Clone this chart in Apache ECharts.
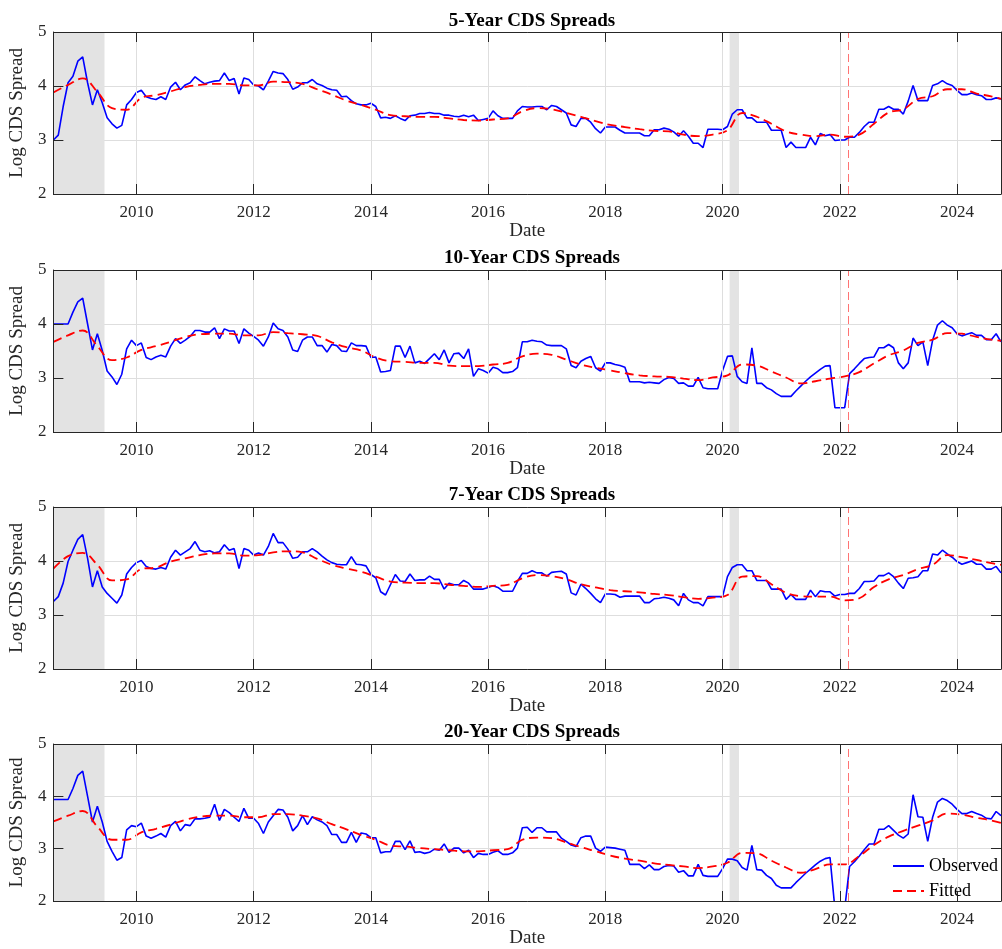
<!DOCTYPE html>
<html>
<head>
<meta charset="utf-8">
<title>CDS Spreads</title>
<script src="https://cdn.jsdelivr.net/npm/echarts@6/dist/echarts.min.js"></script>
<style>
    html, body { margin: 0; padding: 0; background: #ffffff; }
    #main { width: 1002px; height: 949px; }
</style>
</head>
<body>
<div id="main"></div>
<script>
// ---------- data (monthly, Jul 2008 - Sep 2024, log spreads) ----------
var obs5 = [3.00,3.09,3.62,4.06,4.18,4.46,4.54,4.06,3.65,3.93,
    3.69,3.41,3.30,3.22,3.27,3.65,3.75,3.88,3.92,3.80,
    3.77,3.75,3.80,3.75,3.98,4.07,3.93,4.02,4.06,4.17,
    4.10,4.04,4.07,4.09,4.10,4.24,4.10,4.14,3.85,4.15,
    4.12,4.02,4.00,3.93,4.09,4.27,4.24,4.23,4.12,3.94,
    3.98,4.06,4.06,4.12,4.04,4.01,3.96,3.93,3.92,3.80,
    3.81,3.73,3.67,3.65,3.65,3.68,3.62,3.41,3.42,3.40,
    3.45,3.40,3.36,3.45,3.46,3.49,3.49,3.51,3.49,3.49,
    3.46,3.46,3.44,3.43,3.46,3.43,3.46,3.36,3.38,3.40,
    3.54,3.45,3.40,3.40,3.40,3.54,3.62,3.61,3.61,3.62,
    3.62,3.56,3.64,3.62,3.56,3.50,3.28,3.25,3.40,3.40,
    3.33,3.21,3.13,3.24,3.24,3.24,3.18,3.13,3.13,3.13,
    3.13,3.08,3.08,3.19,3.19,3.22,3.20,3.15,3.07,3.17,
    3.07,2.94,2.94,2.86,3.20,3.20,3.20,3.19,3.25,3.48,
    3.56,3.56,3.41,3.41,3.33,3.33,3.33,3.18,3.18,3.18,
    2.86,2.96,2.86,2.86,2.86,3.05,2.91,3.12,3.08,3.10,
    2.99,3.00,3.00,3.05,3.05,3.14,3.25,3.33,3.33,3.57,
    3.57,3.62,3.57,3.57,3.48,3.72,4.01,3.73,3.73,3.73,
    4.01,4.04,4.10,4.04,4.01,3.92,3.84,3.84,3.87,3.84,
    3.82,3.75,3.75,3.78,3.76];

var obs10 = [4.00,4.00,4.00,4.00,4.22,4.41,4.48,4.00,3.52,3.82,
    3.51,3.13,3.02,2.88,3.07,3.54,3.70,3.60,3.65,3.38,
    3.34,3.39,3.42,3.39,3.59,3.73,3.64,3.70,3.77,3.88,
    3.88,3.85,3.85,3.93,3.73,3.91,3.87,3.87,3.64,3.91,
    3.83,3.77,3.70,3.59,3.76,4.02,3.91,3.88,3.76,3.52,
    3.49,3.70,3.76,3.76,3.60,3.60,3.48,3.62,3.60,3.50,
    3.49,3.65,3.60,3.60,3.59,3.38,3.39,3.11,3.12,3.14,
    3.59,3.59,3.38,3.59,3.28,3.31,3.27,3.36,3.45,3.34,
    3.52,3.28,3.45,3.46,3.36,3.54,3.03,3.17,3.14,3.09,
    3.20,3.17,3.10,3.10,3.12,3.19,3.67,3.67,3.70,3.68,
    3.67,3.61,3.60,3.60,3.60,3.54,3.23,3.19,3.31,3.36,
    3.40,3.19,3.13,3.28,3.28,3.25,3.23,3.20,2.93,2.93,
    2.93,2.91,2.92,2.91,2.90,2.97,3.01,2.99,2.90,2.91,
    2.85,2.85,3.01,2.82,2.80,2.80,2.80,3.14,3.40,3.41,
    3.03,2.93,2.90,3.56,2.90,2.90,2.82,2.78,2.71,2.66,
    2.66,2.66,2.76,2.85,2.94,3.02,3.09,3.16,3.22,3.23,
    2.45,2.45,2.45,3.08,3.17,3.27,3.36,3.38,3.39,3.56,
    3.56,3.62,3.56,3.28,3.17,3.28,3.74,3.60,3.67,3.23,
    3.70,3.98,4.06,3.98,3.93,3.82,3.78,3.81,3.84,3.79,
    3.79,3.71,3.71,3.82,3.67];

var obs7 = [3.25,3.34,3.59,3.99,4.20,4.40,4.49,4.05,3.52,3.82,
    3.52,3.40,3.31,3.22,3.37,3.76,3.88,3.97,4.01,3.90,
    3.86,3.85,3.88,3.85,4.07,4.20,4.11,4.17,4.23,4.36,
    4.20,4.17,4.19,4.15,4.17,4.30,4.20,4.23,3.86,4.23,
    4.20,4.11,4.15,4.11,4.27,4.51,4.34,4.34,4.22,4.05,
    4.07,4.17,4.17,4.23,4.17,4.09,4.02,3.97,3.94,3.93,
    3.93,4.08,3.94,3.93,3.91,3.75,3.69,3.43,3.37,3.56,
    3.75,3.63,3.62,3.76,3.64,3.65,3.65,3.72,3.66,3.66,
    3.48,3.59,3.56,3.56,3.64,3.59,3.48,3.48,3.48,3.51,
    3.54,3.51,3.44,3.44,3.44,3.62,3.77,3.77,3.82,3.78,
    3.78,3.72,3.79,3.80,3.81,3.76,3.41,3.37,3.57,3.49,
    3.40,3.30,3.23,3.39,3.39,3.38,3.33,3.35,3.35,3.35,
    3.35,3.23,3.23,3.30,3.31,3.33,3.31,3.28,3.17,3.40,
    3.28,3.23,3.23,3.17,3.34,3.34,3.34,3.34,3.71,3.88,
    3.93,3.93,3.82,3.82,3.64,3.64,3.64,3.48,3.48,3.48,
    3.29,3.38,3.29,3.29,3.29,3.46,3.34,3.45,3.43,3.43,
    3.35,3.38,3.38,3.40,3.40,3.49,3.62,3.62,3.63,3.73,
    3.73,3.78,3.71,3.59,3.49,3.68,3.69,3.71,3.82,3.82,
    4.13,4.11,4.20,4.13,4.07,3.99,3.94,3.97,4.00,3.94,
    3.94,3.85,3.85,3.90,3.78];

var obs20 = [3.94,3.94,3.94,3.94,4.15,4.40,4.48,4.00,3.51,3.81,
    3.51,3.14,2.95,2.78,2.83,3.36,3.44,3.42,3.49,3.24,
    3.20,3.24,3.29,3.22,3.44,3.52,3.34,3.46,3.44,3.57,
    3.57,3.58,3.60,3.85,3.54,3.75,3.69,3.60,3.52,3.77,
    3.58,3.58,3.48,3.29,3.51,3.63,3.75,3.74,3.60,3.34,
    3.44,3.63,3.46,3.61,3.55,3.51,3.44,3.27,3.27,3.12,
    3.12,3.31,3.12,3.30,3.28,3.21,3.21,2.92,2.94,2.94,
    3.14,3.14,2.98,3.15,2.93,2.94,2.91,2.93,2.99,2.97,
    3.09,2.93,3.01,3.01,2.92,2.97,2.83,2.91,2.89,2.89,
    2.93,2.96,2.89,2.89,2.92,3.01,3.40,3.41,3.31,3.40,
    3.40,3.32,3.32,3.32,3.20,3.14,3.07,3.04,3.21,3.24,
    3.24,3.01,2.95,3.03,3.02,3.01,2.99,2.97,2.70,2.70,
    2.70,2.62,2.69,2.60,2.60,2.66,2.68,2.67,2.55,2.58,
    2.48,2.48,2.70,2.49,2.47,2.47,2.47,2.62,2.80,2.80,
    2.77,2.64,2.59,3.06,2.60,2.59,2.49,2.43,2.30,2.25,
    2.25,2.25,2.35,2.44,2.53,2.61,2.69,2.76,2.81,2.83,
    1.85,1.85,1.85,2.66,2.75,2.86,2.98,3.09,3.09,3.37,
    3.37,3.44,3.35,3.26,3.20,3.28,4.03,3.61,3.60,3.14,
    3.60,3.89,3.96,3.92,3.85,3.75,3.67,3.67,3.71,3.67,
    3.64,3.58,3.57,3.71,3.63];

// fitted values, read every third month (plus the last month)
var fit5 = [3.88,4.02,4.14,3.89,3.59,3.56,3.78,3.83,3.90,3.98,
    4.02,4.04,4.04,4.01,4.01,4.08,4.07,4.04,3.94,3.84,
    3.73,3.65,3.56,3.46,3.44,3.43,3.43,3.40,3.37,3.36,
    3.38,3.40,3.53,3.59,3.57,3.50,3.43,3.35,3.28,3.24,
    3.20,3.17,3.16,3.10,3.07,3.10,3.18,3.50,3.43,3.30,
    3.16,3.10,3.07,3.10,3.06,3.10,3.30,3.51,3.57,3.76,
    3.81,3.94,3.94,3.86,3.81,3.76];

var fit10 = [3.67,3.79,3.88,3.59,3.33,3.38,3.52,3.59,3.67,3.76,
    3.81,3.82,3.82,3.79,3.79,3.85,3.83,3.81,3.78,3.66,
    3.57,3.51,3.38,3.31,3.30,3.28,3.28,3.23,3.22,3.22,
    3.25,3.28,3.40,3.45,3.43,3.34,3.25,3.19,3.14,3.09,
    3.05,3.03,3.02,2.99,2.96,3.01,3.05,3.25,3.23,3.12,
    3.01,2.90,2.94,2.99,3.03,3.11,3.27,3.42,3.51,3.65,
    3.71,3.83,3.82,3.76,3.71,3.69];

var fit7 = [3.86,4.09,4.15,3.93,3.64,3.66,3.85,3.88,3.99,4.05,
    4.11,4.14,4.14,4.10,4.11,4.16,4.18,4.16,4.04,3.93,
    3.86,3.80,3.71,3.62,3.60,3.59,3.59,3.56,3.54,3.52,
    3.54,3.56,3.68,3.74,3.72,3.66,3.57,3.51,3.46,3.44,
    3.42,3.39,3.37,3.33,3.30,3.32,3.37,3.71,3.72,3.57,
    3.41,3.35,3.34,3.34,3.27,3.31,3.52,3.66,3.74,3.85,
    3.93,4.11,4.07,4.02,3.96,3.93];

var fit20 = [3.52,3.63,3.72,3.42,3.17,3.17,3.31,3.38,3.46,3.55,
    3.61,3.63,3.63,3.60,3.60,3.66,3.66,3.63,3.58,3.47,
    3.37,3.26,3.17,3.06,3.04,3.01,2.99,2.97,2.95,2.95,
    2.97,2.99,3.17,3.21,3.20,3.12,3.03,2.95,2.87,2.81,
    2.77,2.72,2.69,2.66,2.63,2.66,2.73,2.92,2.91,2.77,
    2.64,2.54,2.61,2.70,2.70,2.86,3.07,3.23,3.34,3.44,
    3.54,3.67,3.65,3.59,3.54,3.49];

var panelTitles = ['5-Year CDS Spreads', '10-Year CDS Spreads', '7-Year CDS Spreads', '20-Year CDS Spreads'];
var observedList = [obs5, obs10, obs7, obs20];
var fittedList = [fit5, fit10, fit7, fit20];

// shaded recession periods and the event line (decimal years)
var recessions = [[2008.583, 2009.455], [2020.12, 2020.28]];
var eventDate = 2022.148;
var yearTicks = [2010, 2012, 2014, 2016, 2018, 2020, 2022, 2024];

// month dates as decimal years, starting Jul 2008
var months = [];
for (var m = 0; m < obs5.length; m++) {
    months.push(2008 + 7 / 12 + m / 12);
}
var fitIdx = [];
for (var q = 0; q <= 192; q += 3) {
    fitIdx.push(q);
}
fitIdx.push(194);

// ---------- chart ----------
var chart = echarts.init(document.getElementById('main'), null, { renderer: 'canvas' });

var serif = '"Liberation Serif", "Times New Roman", serif';
var axisColor = '#262626';
var gridColor = '#dedede';
var gridTops = [32, 270, 507, 744];
var titleTops = [12, 249, 486, 723];

var option = {
    animation: false,
    backgroundColor: '#ffffff',
    title: [],
    grid: [],
    xAxis: [],
    yAxis: [],
    //图例 (line only, no marker)
    legend: {
        data: ['Observed', 'Fitted'],
        orient: 'vertical',
        left: 892,
        top: 857,
        padding: 0,
        itemWidth: 31,
        itemHeight: 14,
        itemGap: 7,
        itemStyle: { opacity: 0 },
        textStyle: { fontFamily: serif, fontSize: 18, color: '#000000' }
    },
    series: []
};

for (var p = 0; p < 4; p++) {
    option.title.push({
        text: panelTitles[p],
        left: 532,
        top: titleTops[p],
        textAlign: 'center',
        padding: 0,
        textStyle: { fontFamily: serif, fontWeight: 'bold', fontSize: 19, color: '#000000' }
    });

    option.grid.push({ left: 50, right: 1, top: gridTops[p], height: 162 });

    // bottom x axis: labels, ticks, vertical grid
    option.xAxis.push({
        type: 'value',
        gridIndex: p,
        position: 'bottom',
        min: months[0],
        max: months[months.length - 1],
        z: 5,
        name: 'Date',
        nameLocation: 'middle',
        nameGap: 28,
        nameTextStyle: { fontFamily: serif, fontSize: 19, color: axisColor },
        axisLine: { show: true, onZero: false, lineStyle: { color: axisColor, width: 1 } },
        axisTick: { show: true, inside: true, length: 10, customValues: yearTicks, lineStyle: { color: axisColor } },
        axisLabel: {
            show: true, margin: 10, customValues: yearTicks,
            fontFamily: serif, fontSize: 17, color: axisColor,
            formatter: function (v) { return String(Math.round(v)); }
        },
        splitLine: { show: true, lineStyle: { color: gridColor, width: 1 } }
    });
    // top x axis: box edge with mirrored ticks
    option.xAxis.push({
        type: 'value',
        gridIndex: p,
        position: 'top',
        min: months[0],
        max: months[months.length - 1],
        z: 5,
        axisLine: { show: true, onZero: false, lineStyle: { color: axisColor, width: 1 } },
        axisTick: { show: true, inside: true, length: 10, customValues: yearTicks, lineStyle: { color: axisColor } },
        axisLabel: { show: false },
        splitLine: { show: false }
    });

    // left y axis
    option.yAxis.push({
        type: 'value',
        gridIndex: p,
        position: 'left',
        min: 2,
        max: 5,
        interval: 1,
        z: 5,
        name: 'Log CDS Spread',
        nameLocation: 'middle',
        nameGap: 18,
        nameTextStyle: { fontFamily: serif, fontSize: 19, color: axisColor },
        axisLine: { show: true, onZero: false, lineStyle: { color: axisColor, width: 1 } },
        axisTick: { show: true, inside: true, length: 10, lineStyle: { color: axisColor } },
        axisLabel: { show: true, margin: 7, fontFamily: serif, fontSize: 17, color: axisColor },
        splitLine: { show: false }
    });
    // right y axis: box edge, ticks and horizontal grid (kept under the shading)
    option.yAxis.push({
        type: 'value',
        gridIndex: p,
        position: 'right',
        min: 2,
        max: 5,
        interval: 1,
        axisLine: { show: true, onZero: false, lineStyle: { color: axisColor, width: 1 } },
        axisTick: { show: true, inside: true, length: 10, lineStyle: { color: axisColor } },
        axisLabel: { show: false },
        splitLine: { show: true, lineStyle: { color: gridColor, width: 1 } }
    });

    var obs = observedList[p];
    var obsData = [];
    for (var i = 0; i < obs.length; i++) {
        obsData.push([months[i], obs[i]]);
    }
    var fit = fittedList[p];
    var fitData = [];
    for (var j = 0; j < fit.length; j++) {
        fitData.push([months[fitIdx[j]], fit[j]]);
    }

    var areas = [];
    for (var r = 0; r < recessions.length; r++) {
        areas.push([{ xAxis: recessions[r][0] }, { xAxis: recessions[r][1] }]);
    }

    option.series.push({
        name: 'Observed',
        type: 'line',
        xAxisIndex: p * 2,
        yAxisIndex: p * 2,
        data: obsData,
        symbol: 'none',
        lineStyle: { color: '#0000ff', width: 1.6 },
        itemStyle: { color: '#0000ff' },
        markArea: {
            silent: true,
            itemStyle: { color: '#e3e3e3' },
            data: areas
        }
    });
    option.series.push({
        name: 'Fitted',
        type: 'line',
        xAxisIndex: p * 2,
        yAxisIndex: p * 2,
        data: fitData,
        smooth: 0.4,
        symbol: 'none',
        lineStyle: { color: '#ff0000', width: 1.8, type: [9, 5] },
        itemStyle: { color: '#ff0000' },
        markLine: {
            silent: true,
            symbol: ['none', 'none'],
            label: { show: false },
            lineStyle: { color: 'rgba(255, 0, 0, 0.55)', width: 1, type: [8, 4] },
            data: [{ xAxis: eventDate }]
        }
    });
}

chart.setOption(option);
</script>
</body>
</html>
